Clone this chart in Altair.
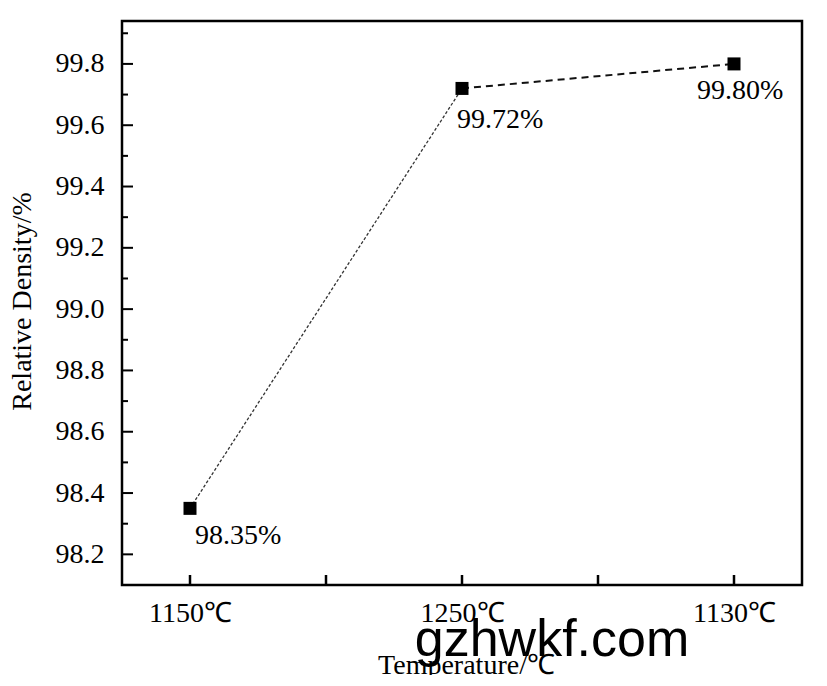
import json
import altair as alt
import pandas as pd

# ---- data ----
categories = ["1150℃", "1250℃", "1130℃"]
density = [98.35, 99.72, 99.80]
y_major = [98.2, 98.4, 98.6, 98.8, 99.0, 99.2, 99.4, 99.6, 99.8]
y_minor = [98.3, 98.5, 98.7, 98.9, 99.1, 99.3, 99.5, 99.7, 99.9]
x_ticks = [0, 0.5, 1, 1.5, 2]

df = pd.DataFrame({"idx": list(range(len(categories))), "cat": categories, "v": density})

SERIF = "Liberation Serif"
W, H = 680, 564
xs = alt.Scale(domain=[-0.25, 2.25], nice=False, zero=False)
ys = alt.Scale(domain=[98.1, 99.94], nice=False, zero=False)

label_expr = "datum.value % 1 === 0 ? " + json.dumps(categories, ensure_ascii=False) + "[datum.value] : ''"

xenc = alt.X("idx:Q", scale=xs, axis=alt.Axis(
    values=[0, 1, 2], labelExpr=label_expr, title="Temperature/℃",
    domain=False, ticks=False, grid=False, labelFont=SERIF, labelFontSize=28,
    labelColor="black", labelPadding=14, titleFont=SERIF, titleFontSize=28,
    titleFontWeight="normal", titleColor="black", titleX=344, titleY=80,
    titleAlign="center", titleBaseline="middle"))
yenc = alt.Y("v:Q", scale=ys, axis=alt.Axis(
    values=y_major, format=".1f", title="Relative Density/%",
    domain=False, ticks=False, grid=False, labelFont=SERIF, labelFontSize=28,
    labelColor="black", labelPadding=18, titleFont=SERIF, titleFontSize=28,
    titleFontWeight="normal", titleColor="black", titleX=-100, titleY=280,
    titleAngle=-90, titleAlign="center", titleBaseline="middle"))

base = alt.Chart(df)

seg1 = base.transform_filter("datum.idx <= 1").mark_line(
    color="#333333", strokeWidth=1.3, strokeDash=[3, 2]).encode(x=xenc, y=yenc)
seg2 = base.transform_filter("datum.idx >= 1").mark_line(
    color="#111111", strokeWidth=2, strokeDash=[7, 5]).encode(x=xenc, y=yenc)
pts = base.mark_square(size=169, color="black", opacity=1).encode(x=xenc, y=yenc)

def lab(i, dx, dy):
    return base.transform_filter(f"datum.idx == {i}").transform_calculate(
        t="format(datum.v, '.2f') + '%'"
    ).mark_text(font=SERIF, fontSize=28, color="black", align="left",
                baseline="middle", dx=dx, dy=dy).encode(x=xenc, y=yenc, text="t:N")

labels = lab(0, 5, 28) + lab(1, -5, 32) + lab(2, -37, 27)

ymaj = alt.Chart(pd.DataFrame({"t": y_major})).mark_rule(color="black", strokeWidth=2).encode(
    y=alt.Y("t:Q", scale=ys), x=alt.value(0), x2=alt.value(11))
ymin = alt.Chart(pd.DataFrame({"t": y_minor})).mark_rule(color="black", strokeWidth=2).encode(
    y=alt.Y("t:Q", scale=ys), x=alt.value(0), x2=alt.value(6))
xt = alt.Chart(pd.DataFrame({"t": x_ticks})).mark_rule(color="black", strokeWidth=2.5).encode(
    x=alt.X("t:Q", scale=xs), y=alt.value(H), y2=alt.value(H - 10))

wm = alt.Chart(pd.DataFrame({"w": ["gzhwkf.com"]})).mark_text(
    font="Liberation Sans", fontSize=52, color="black", align="center",
    baseline="alphabetic").encode(text="w:N", x=alt.value(430), y=alt.value(635))

chart = alt.layer(seg1, seg2, ymaj, ymin, xt, pts, labels, wm).properties(
    width=W, height=H,
    autosize=alt.AutoSizeParams(type="none"),
    padding={"left": 114, "top": 13, "right": 10, "bottom": 90},
).configure(background="white").configure_view(stroke="black", strokeWidth=2.5)

chart.save("out.html", embed_options={"renderer": "svg", "actions": False})
